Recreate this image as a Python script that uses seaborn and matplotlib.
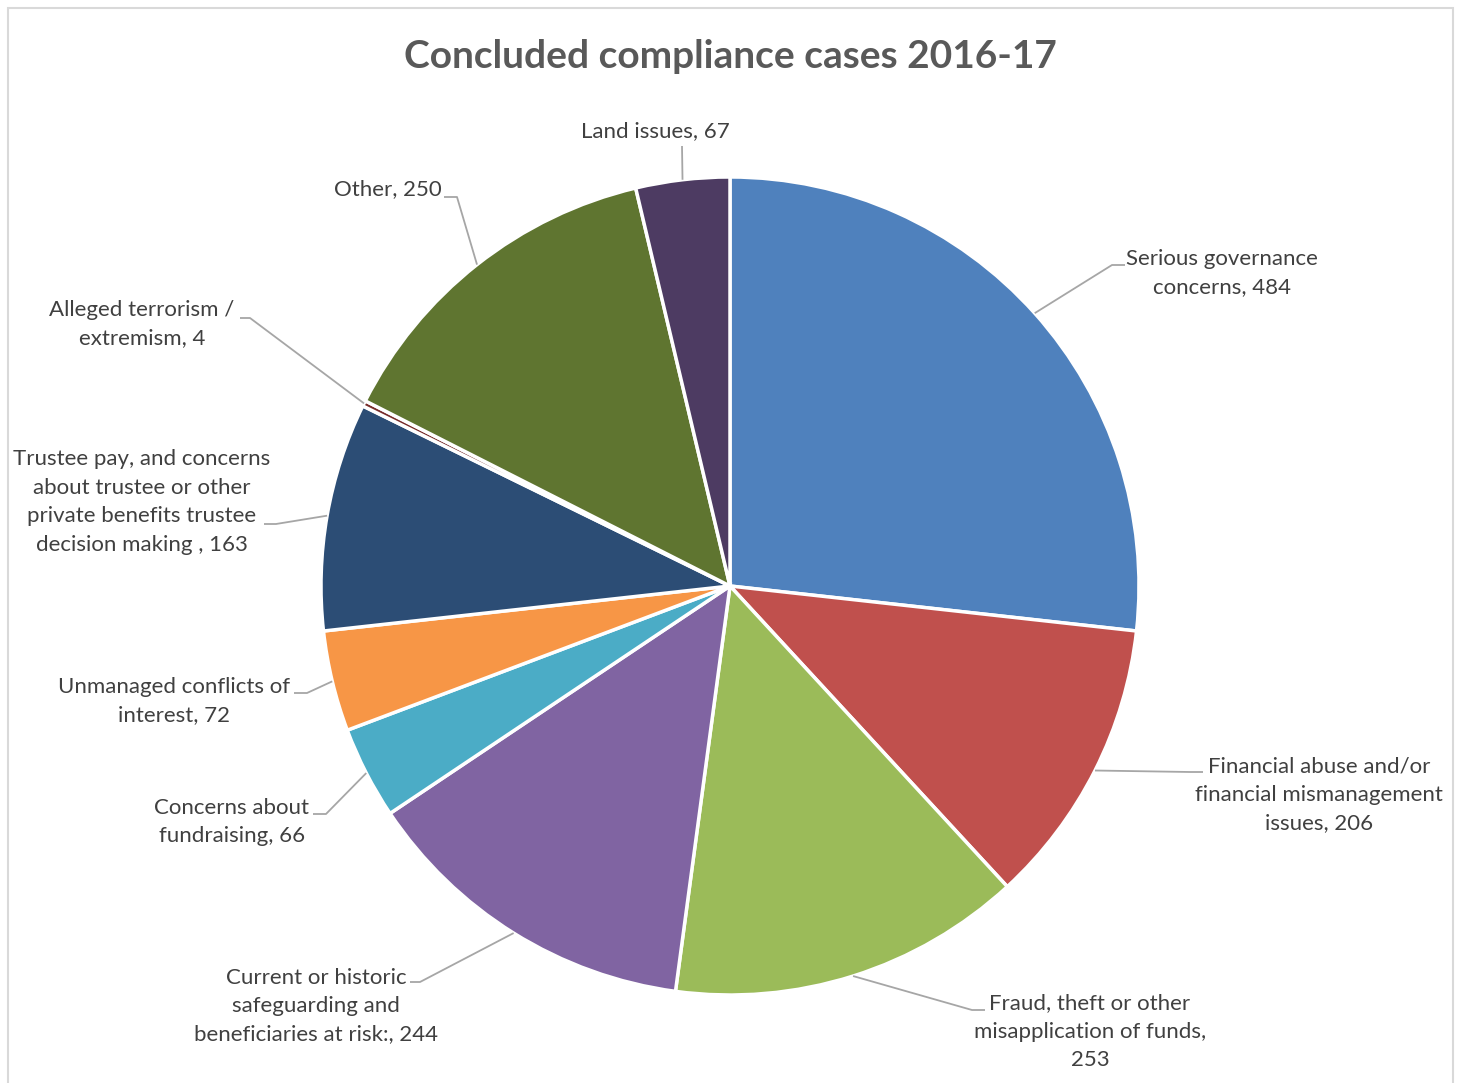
import matplotlib
matplotlib.use("Agg")
import matplotlib.pyplot as plt
import seaborn as sns
import numpy as np
from matplotlib.patches import Rectangle

# ---- data ----
categories = [
    "Serious governance\nconcerns",
    "Financial abuse and/or\nfinancial mismanagement\nissues",
    "Fraud, theft or other\nmisapplication of funds,\n",
    "Current or historic\nsafeguarding and\nbeneficiaries at risk:",
    "Concerns about\nfundraising",
    "Unmanaged conflicts of\ninterest",
    "Trustee pay, and concerns\nabout trustee or other\nprivate benefits trustee\ndecision making ",
    "Alleged terrorism /\nextremism",
    "Other",
    "Land issues",
]
values = [484, 206, 253, 244, 66, 72, 163, 4, 250, 67]
colors = ["#4F81BD", "#C0504D", "#9BBB59", "#8064A2", "#4BACC6",
          "#F79646", "#2C4D75", "#772C2A", "#5F7530", "#4D3B62"]
title = "Concluded compliance cases 2016-17"

# ---- layout (pixel positions of label centres and leader elbows) ----
W, H = 1463, 1083
CX, CY, R = 730, 586, 409
label_pos = [(1222, 273), (1319, 795), (1090, 1032), (316, 1006), (232, 822),
             (174, 701), (142, 502), (142, 324), (388, 189), (655, 131)]
elbow_pos = [(1112, 265), (1190, 772), (972, 1010), (420, 982), (326, 814),
             (307, 693), (276, 524), (250, 318), (457, 197), (682, 146)]
end_pos = [(1125, 265), (1203, 772), (985, 1010), (410, 982), (313, 814),
           (294, 693), (264, 524), (240, 318), (444, 197), (682, 146)]


def to_data(p):
    return ((p[0] - CX) / R, (CY - p[1]) / R)


sns.set_theme(style="white")
plt.rcParams["font.family"] = ["Lato", "DejaVu Sans"]

fig = plt.figure(figsize=(W / 100, H / 100), dpi=100)
fig.patch.set_facecolor("white")
ax = fig.add_axes([0, 0, 1, 1])
pal = sns.color_palette(colors)

wedges, _ = ax.pie(values, colors=pal, startangle=90, counterclock=False,
                   radius=1, center=(0, 0),
                   wedgeprops=dict(edgecolor="white", linewidth=2.5))
ax.set_aspect("auto")
ax.set_xlim(-CX / R, (W - CX) / R)
ax.set_ylim(-(H - CY) / R, CY / R)
ax.axis("off")

for i, w in enumerate(wedges):
    mid = np.deg2rad((w.theta1 + w.theta2) / 2)
    ex, ey = np.cos(mid), np.sin(mid)
    bx, by = to_data(elbow_pos[i])
    tx, ty = to_data(end_pos[i])
    ax.plot([ex, bx, tx], [ey, by, ty], color="#A6A6A6", lw=1.3,
            solid_capstyle="butt", zorder=1)
    lx, ly = to_data(label_pos[i])
    name = categories[i]
    txt = f"{name}{values[i]}" if name.endswith("\n") else f"{name}, {values[i]}"
    ax.text(lx, ly, txt, ha="center", va="center", multialignment="center",
            fontsize=16, color="#404040", linespacing=1.53)

fig.text(CX / W, 1 - 57 / H, title, ha="center", va="center",
         fontsize=28, fontweight="bold", color="#595959")

fig.patches.append(Rectangle((8 / W, -0.01), (1453 - 8) / W, 1 - 8 / H + 0.01,
                             transform=fig.transFigure, fill=False,
                             edgecolor="#D9D9D9", lw=1.5))

fig.savefig("out.png", dpi=100)
